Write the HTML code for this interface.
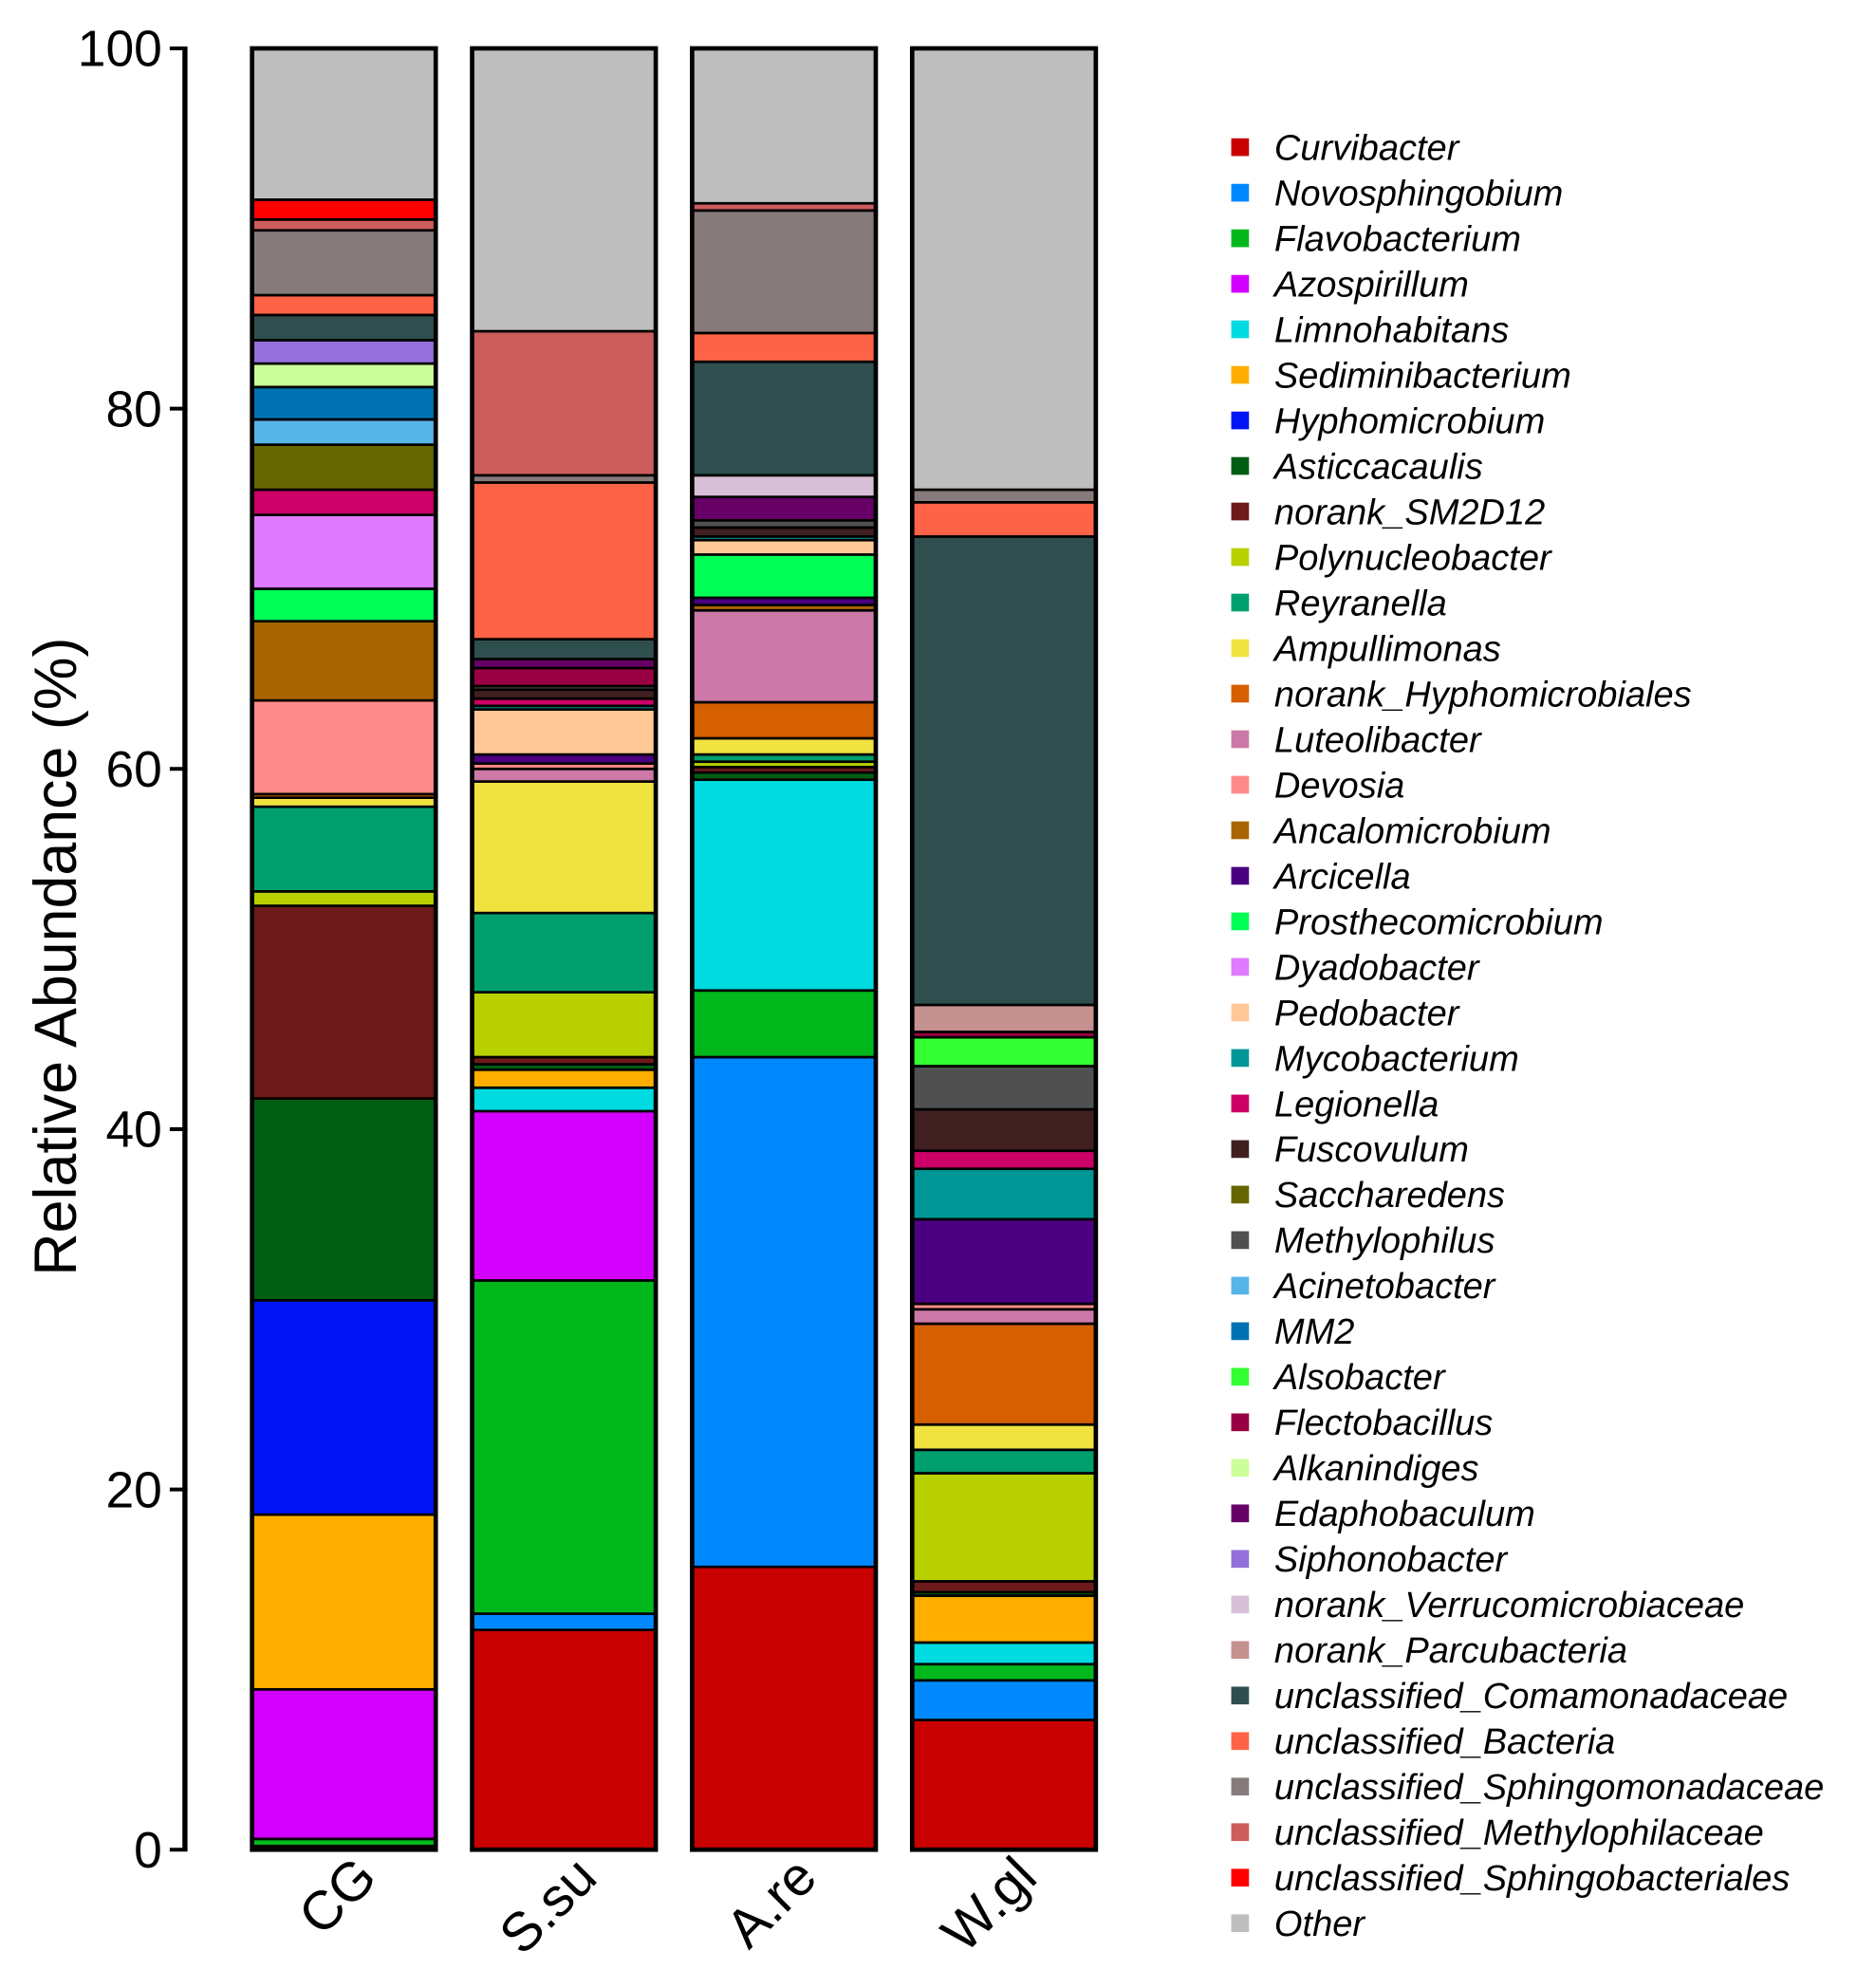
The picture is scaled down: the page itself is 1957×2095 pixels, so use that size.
<!DOCTYPE html>
<html><head><meta charset="utf-8"><style>
html,body{margin:0;padding:0;background:#fff;}
svg{display:block;}
text{font-family:"Liberation Sans",Arial,sans-serif;}
</style></head>
<body>
<svg id="chart" width="1957" height="2095" viewBox="0 0 1466 1569" xmlns="http://www.w3.org/2000/svg">
<g id="yaxis"></g>
<g id="bars"></g>
<g id="xlabels"></g>
<g id="legend"></g>
<text x="0" y="0" transform="translate(60,755) rotate(-90)" text-anchor="middle" font-size="47">Relative Abundance (%)</text>
</svg>
<script>
const taxa = ["Curvibacter","Novosphingobium","Flavobacterium","Azospirillum","Limnohabitans","Sediminibacterium","Hyphomicrobium","Asticcacaulis","norank_SM2D12","Polynucleobacter","Reyranella","Ampullimonas","norank_Hyphomicrobiales","Luteolibacter","Devosia","Ancalomicrobium","Arcicella","Prosthecomicrobium","Dyadobacter","Pedobacter","Mycobacterium","Legionella","Fuscovulum","Saccharedens","Methylophilus","Acinetobacter","MM2","Alsobacter","Flectobacillus","Alkanindiges","Edaphobaculum","Siphonobacter","norank_Verrucomicrobiaceae","norank_Parcubacteria","unclassified_Comamonadaceae","unclassified_Bacteria","unclassified_Sphingomonadaceae","unclassified_Methylophilaceae","unclassified_Sphingobacteriales","Other"];
const taxaColors = ["#c80000","#0089ff","#00b81c","#d400ff","#00dbe2","#ffae00","#0014f5","#005e14","#6e1a1a","#b8d000","#00a06e","#f0e33f","#d65f00","#cc79a7","#ff8a8a","#a86400","#4b0082","#00ff55","#e07aff","#ffc896","#009696","#cc0066","#3f1f1f","#666600","#505050","#56b4e9","#0072b2","#33ff33","#990044","#ccff99","#660066","#9370db","#d8bfd8","#c49090","#2f4f4f","#ff6347","#877a7a","#cd5c5c","#ff0000","#bebebe"];
const samples = ["CG","S.su","A.re","W.gl"];
const cgValues  = [0.2,0,0.4,8.3,0,9.7,11.9,11.2,10.7,0.8,4.7,0.5,0.2,0,5.2,4.4,0,1.8,4.1,0,0,1.4,0,2.5,0,1.4,1.8,0,0,1.3,0,1.3,0,0,1.4,1.1,3.6,0.6,1.1,8.4];
const ssuValues = [12.2,0.9,18.5,9.4,1.3,1.0,0,0.3,0.4,3.6,4.4,7.3,0,0.7,0.3,0,0.5,0,0,2.5,0.2,0.4,0.5,0,0.2,0,0,0,1.0,0,0.5,0,0,0,1.1,8.7,0.4,8.0,0,15.7];
const areValues = [15.7,28.3,3.7,0,11.7,0,0,0.4,0.3,0.3,0.4,0.9,2.0,5.1,0,0.3,0.4,2.4,0,0.8,0.2,0,0.5,0,0.4,0,0,0,0,0,1.3,0,1.2,0,6.3,1.6,6.8,0.4,0,8.6];
const wglValues = [7.2,2.2,0.9,0,1.2,2.6,0,0.2,0.6,6.0,1.3,1.4,5.6,0.8,0.3,0,4.7,0,0,0,2.8,1.0,2.3,0,2.4,0,0,1.6,0.3,0,0,0,0,1.5,26.0,1.9,0.7,0,0,24.5];
const sampleValues = [cgValues, ssuValues, areValues, wglValues];
const yTicks = [0,20,40,60,80,100];

const NS = "http://www.w3.org/2000/svg";
const y0 = 1460, y100 = 38;
function yScale(v){ return y0 - v * (y0 - y100) / 100; }
const barLeft = 199, barStep = 173.7, barW = 145;
function xScale(i){ return barLeft + i * barStep; }
function mk(tag, attrs, parent){ const e = document.createElementNS(NS, tag); for (const k in attrs) e.setAttribute(k, attrs[k]); parent.appendChild(e); return e; }

const ya = document.getElementById("yaxis");
let ax = mk("line", {x1:146, y1:yScale(100), x2:146, y2:yScale(0), stroke:"#000", "stroke-width":4}, ya);


yTicks.forEach(t => {
  const tk = mk("line", {x1:134, y1:yScale(t), x2:148, y2:yScale(t), stroke:"#000", "stroke-width":3}, ya);
  
  
  const lb = mk("text", {x:128, y:yScale(t)+14, "text-anchor":"end", "font-size":40}, ya);
  lb.textContent = t;
  
  
});

const bg = document.getElementById("bars");
sampleValues.forEach((vals, si) => {
  const g = mk("g", {}, bg);
  
  
  let cum = 0;
  vals.forEach((v, ti) => {
    if (v <= 0) return;
    const yt = yScale(cum + v), yb = yScale(cum);
    const r = mk("rect", {x:xScale(si), y:yt, width:barW, height:yb - yt, fill:taxaColors[ti], stroke:"#000", "stroke-width":2}, g);
    
    
    cum += v;
  });
  const o = mk("rect", {x:xScale(si), y:yScale(100), width:barW, height:yScale(0) - yScale(100), fill:"none", stroke:"#000", "stroke-width":3.5}, g);
  
  
});

const xl = document.getElementById("xlabels");
samples.forEach((s, si) => {
  const cx = xScale(si) + barW/2 + 28, cy = 1484;
  const t = mk("text", {x:0, y:0, "text-anchor":"end", "font-size":43, transform:"translate(" + cx + "," + cy + ") rotate(-45)"}, xl);
  t.textContent = s;
  
  
});

const lg = document.getElementById("legend");
taxa.forEach((name, i) => {
  const g = mk("g", {}, lg);
  
  
  const cy = 116 + i * 35.95;
  mk("rect", {x:972, y:cy - 7, width:14, height:14, fill:taxaColors[i]}, g);
  const t = mk("text", {x:1006, y:cy + 10, "font-size":28.5, "font-style":"italic"}, g);
  t.textContent = name;
});
</script>
</body></html>
